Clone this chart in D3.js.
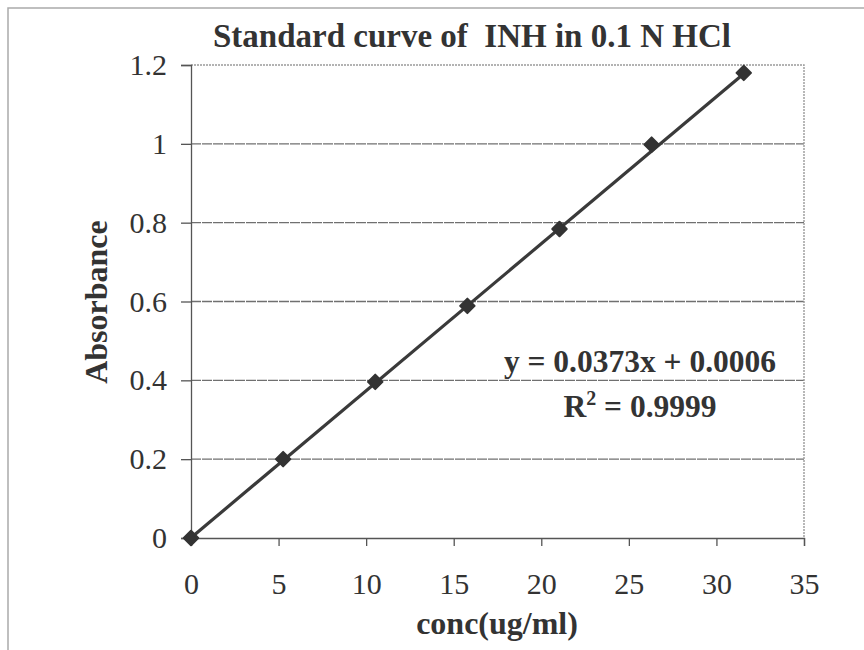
<!DOCTYPE html>
<html>
<head>
<meta charset="utf-8">
<script src="https://cdn.jsdelivr.net/npm/d3@7"></script>
<style>
  body { margin: 0; background: #fff; }
  svg { display: block; }
  text { font-family: "Liberation Serif", "Times New Roman", serif; fill: #333; white-space: pre; }
</style>
</head>
<body>
<script>
// data
let conc = [0, 5.26, 10.52, 15.78, 21.04, 26.3, 31.56];
let absorbance = [0, 0.2, 0.396, 0.589, 0.784, 0.998, 1.18];
let xTicks = [0, 5, 10, 15, 20, 25, 30, 35];
let yTicks = [0, 0.2, 0.4, 0.6, 0.8, 1, 1.2];
let slope = 0.0373;
let intercept = 0.0006;

let width = 864;
let height = 650;
let margin = { top: 65, right: 60, bottom: 112, left: 191 };

let svg = d3.select('body').append('svg')
  .attr('width', width)
  .attr('height', height);

// outer frame (only left and top edges visible in the scan)
svg.append('path')
  .attr('d', `M8,${height} L8,8 L${width},8`)
  .attr('fill', 'none')
  .attr('stroke', '#aaa')
  .attr('stroke-width', 1.5);

let x = d3.scaleLinear().domain([0, 35]).range([margin.left, width - margin.right]);
let y = d3.scaleLinear().domain([0, 1.2]).range([height - margin.bottom, margin.top]);

// gridlines
svg.append('g')
  .selectAll('line')
  .data(yTicks.slice(1, -1))
  .join('line')
  .attr('x1', x(0)).attr('x2', x(35))
  .attr('y1', (d) => y(d)).attr('y2', (d) => y(d))
  .attr('stroke', '#707070')
  .attr('stroke-width', 1.3)
  .attr('stroke-dasharray', '10,1');

// top and right edges of plot area
svg.append('path')
  .attr('d', `M${x(0)},${y(1.2)} L${x(35)},${y(1.2)} L${x(35)},${y(0)}`)
  .attr('fill', 'none')
  .attr('stroke', '#9a9a9a')
  .attr('stroke-width', 1.4)
  .attr('stroke-dasharray', '2,1');

// axes
let yAxis = svg.append('g')
  .attr('transform', `translate(${x(0)},0)`)
  .call(d3.axisLeft(y).tickValues(yTicks).tickSize(10).tickPadding(14).tickFormat(d3.format('')));

let xAxis = svg.append('g')
  .attr('transform', `translate(0,${y(0)})`)
  .call(d3.axisBottom(x).tickValues(xTicks).tickSize(8).tickPadding(27).tickFormat(d3.format('')));

[yAxis, xAxis].forEach((g) => {
  g.select('.domain').attr('stroke', '#555').attr('stroke-width', 1.3);
  g.selectAll('.tick line').attr('stroke', '#555').attr('stroke-width', 1.3);
  g.selectAll('.tick text')
    .style('font-family', '"Liberation Serif", "Times New Roman", serif')
    .style('font-size', '30px')
    .attr('fill', '#333');
});

// trendline
let xExt = d3.extent(conc);
svg.append('line')
  .attr('x1', x(xExt[0])).attr('y1', y(slope * xExt[0] + intercept))
  .attr('x2', x(xExt[1])).attr('y2', y(slope * xExt[1] + intercept))
  .attr('stroke', '#3a3a3a')
  .attr('stroke-width', 3.2);

// markers
let diamond = d3.symbol().type(d3.symbolSquare).size(105);
svg.append('g')
  .selectAll('path')
  .data(conc)
  .join('path')
  .attr('d', diamond)
  .attr('transform', (d, i) => `translate(${x(d)},${y(absorbance[i])}) rotate(45)`)
  .attr('fill', '#333')
  .attr('stroke', '#333')
  .attr('stroke-width', 2)
  .attr('stroke-linejoin', 'round');

// title
svg.append('text')
  .attr('x', 472)
  .attr('y', 47)
  .attr('text-anchor', 'middle')
  .style('font-size', '33px')
  .style('font-weight', 'bold')
  .text('Standard curve of  INH in 0.1 N HCl');

// axis titles
svg.append('text')
  .attr('transform', 'translate(107,302) rotate(-90)')
  .attr('text-anchor', 'middle')
  .style('font-size', '32px')
  .style('font-weight', 'bold')
  .text('Absorbance');

svg.append('text')
  .attr('x', 497)
  .attr('y', 634)
  .attr('text-anchor', 'middle')
  .style('font-size', '32px')
  .style('font-weight', 'bold')
  .text('conc(ug/ml)');

// equation
svg.append('text')
  .attr('x', 640)
  .attr('y', 372)
  .attr('text-anchor', 'middle')
  .style('font-size', '31.5px')
  .style('font-weight', 'bold')
  .text(`y = ${slope}x + ${intercept.toFixed(4)}`);

let r2 = svg.append('text')
  .attr('x', 640)
  .attr('y', 417)
  .attr('text-anchor', 'middle')
  .style('font-size', '31.5px')
  .style('font-weight', 'bold');
r2.append('tspan').text('R');
r2.append('tspan').attr('dy', -12).style('font-size', '20px').text('2');
r2.append('tspan').attr('dy', 12).text(' = 0.9999');
</script>
</body>
</html>
